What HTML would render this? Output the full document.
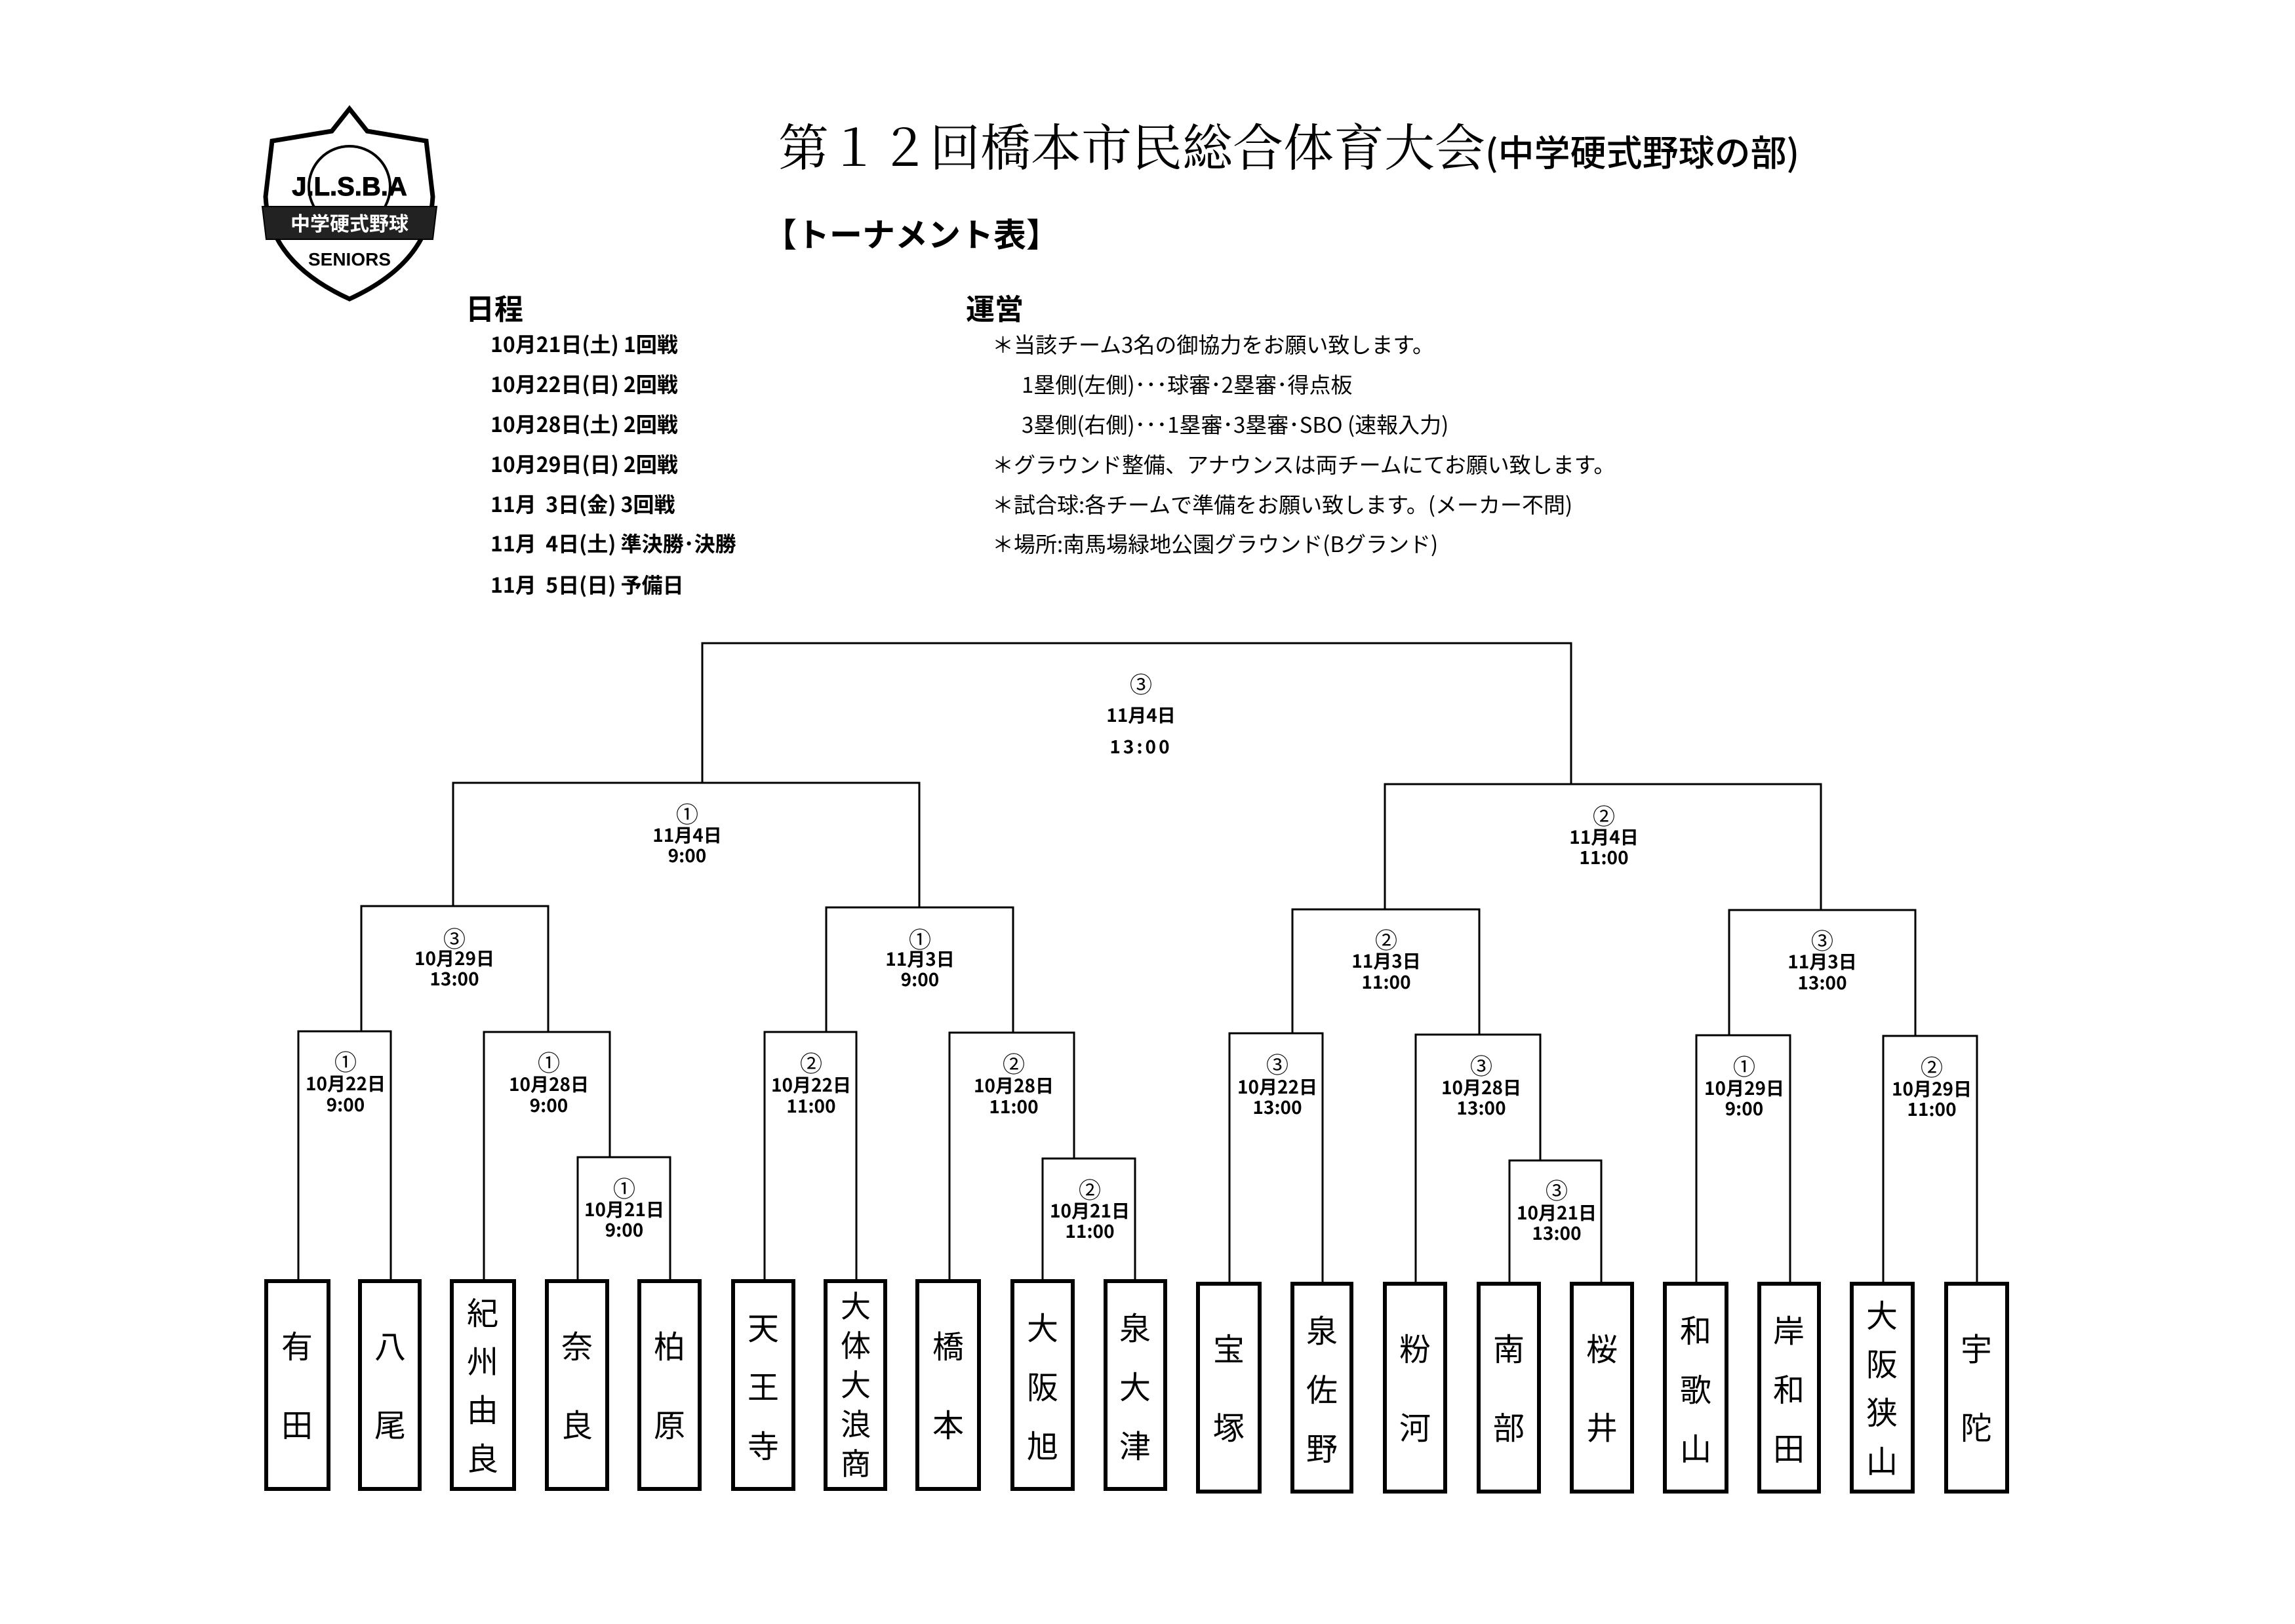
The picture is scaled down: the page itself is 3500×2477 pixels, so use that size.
<!DOCTYPE html>
<html><head><meta charset="utf-8">
<style>
html,body{margin:0;padding:0;background:#fff;}
body{width:3500px;height:2477px;position:relative;overflow:hidden;font-family:"Liberation Sans","Noto Sans CJK JP",sans-serif;color:#000;}
.t{position:absolute;white-space:nowrap;line-height:1;}
</style></head><body>
<div class="t" style="left:1187px;top:182px;font-size:77px;font-family:'Noto Serif CJK SC','Noto Sans CJK JP',serif;">第１２回橋本市民総合体育大会<span style="font-size:55px;font-family:'Noto Sans CJK JP',sans-serif;font-weight:500;">(中学硬式野球の部)</span></div>
<div class="t" style="left:1165px;top:330px;font-size:50px;font-weight:bold;font-family:'Noto Sans CJK JP',sans-serif;">【トーナメント表】</div>
<div class="t" style="left:710px;top:446px;font-size:44px;font-weight:bold;font-family:'Noto Sans CJK JP',sans-serif;">日程</div>
<div class="t" style="left:1473px;top:446px;font-size:44px;font-weight:bold;font-family:'Noto Sans CJK JP',sans-serif;">運営</div>
<div style="position:absolute;left:748px;top:0;font-size:32px;font-weight:bold;font-family:'Noto Sans CJK JP',sans-serif;">
<div class="t" style="top:508px">10月21日(土) 1回戦</div>
<div class="t" style="top:569px">10月22日(日) 2回戦</div>
<div class="t" style="top:630px">10月28日(土) 2回戦</div>
<div class="t" style="top:691px">10月29日(日) 2回戦</div>
<div class="t" style="top:752px">11月&nbsp;&nbsp;3日(金) 3回戦</div>
<div class="t" style="top:812px">11月&nbsp;&nbsp;4日(土) 準決勝･決勝</div>
<div class="t" style="top:875px">11月&nbsp;&nbsp;5日(日) 予備日</div>
</div>
<div style="position:absolute;left:1513px;top:0;font-size:33px;font-family:'Noto Sans CJK JP',sans-serif;">
<div class="t" style="top:508px">＊当該チーム3名の御協力をお願い致します。</div>
<div class="t" style="top:569px;left:45px">1塁側(左側)･･･球審･2塁審･得点板</div>
<div class="t" style="top:630px;left:45px">3塁側(右側)･･･1塁審･3塁審･SBO (速報入力)</div>
<div class="t" style="top:691px">＊グラウンド整備、アナウンスは両チームにてお願い致します。</div>
<div class="t" style="top:752px">＊試合球:各チームで準備をお願い致します。(メーカー不問)</div>
<div class="t" style="top:812px">＊場所:南馬場緑地公園グラウンド(Bグランド)</div>
</div>

<svg style="position:absolute;left:0;top:0" width="3500" height="2477" xmlns="http://www.w3.org/2000/svg">
<g stroke="#000" fill="none">
<path d="M533 166 L560 200 L650 215 L660 300 Q655 400 533 456 Q410 400 405 300 L415 215 L506 200 Z" stroke-width="7" fill="#fff"/>
<circle cx="533" cy="285" r="62" stroke-width="4"/>
<path d="M400 315 L666 315 L660 365 L406 365 Z" fill="#222" stroke-width="2"/>
</g>
<text x="533" y="298" font-size="40" font-weight="bold" text-anchor="middle" font-family="Liberation Sans" stroke="#000" stroke-width="1">J.L.S.B.A</text>
<text x="533" y="352" font-size="30" font-weight="bold" text-anchor="middle" fill="#fff" font-family="Noto Sans CJK JP">中学硬式野球</text>
<text x="533" y="405" font-size="28" font-weight="bold" text-anchor="middle" font-family="Liberation Sans">SENIORS</text>

<g stroke="#000" stroke-width="3" fill="none" stroke-linecap="square">
<path d="M1071 1194 V981 H2396 V1196"/>
<path d="M691 1382 V1194 H1402 V1384"/>
<path d="M2112 1387 V1196 H2777 V1388"/>
<path d="M551 1573 V1382 H836 V1574"/>
<path d="M1260 1574 V1384 H1545 V1575"/>
<path d="M1971 1576 V1387 H2256 V1578"/>
<path d="M2637 1579 V1388 H2921 V1580"/>
<path d="M455 1952 V1573 H596 V1952"/>
<path d="M738 1952 V1574 H930 V1765"/>
<path d="M881 1952 V1765 H1022 V1952"/>
<path d="M1166 1952 V1574 H1306 V1952"/>
<path d="M1448 1952 V1575 H1638 V1767"/>
<path d="M1590 1952 V1767 H1731 V1952"/>
<path d="M1875 1956 V1576 H2017 V1956"/>
<path d="M2159 1956 V1578 H2349 V1770"/>
<path d="M2302 1956 V1770 H2442 V1956"/>
<path d="M2587 1956 V1579 H2730 V1956"/>
<path d="M2872 1956 V1580 H3015 V1956"/>
</g>

<g stroke="#000" stroke-width="6" fill="#fff">
<rect x="406" y="1954" width="95" height="317"/>
<rect x="549" y="1954" width="91" height="317"/>
<rect x="689" y="1954" width="95" height="317"/>
<rect x="834" y="1954" width="92" height="317"/>
<rect x="975" y="1954" width="92" height="317"/>
<rect x="1118" y="1954" width="92" height="317"/>
<rect x="1259" y="1954" width="91" height="317"/>
<rect x="1399" y="1954" width="94" height="317"/>
<rect x="1544" y="1954" width="92" height="317"/>
<rect x="1686" y="1954" width="91" height="317"/>
<rect x="1827" y="1958" width="94" height="317"/>
<rect x="1971" y="1958" width="90" height="317"/>
<rect x="2112" y="1958" width="92" height="317"/>
<rect x="2255" y="1958" width="92" height="317"/>
<rect x="2397" y="1958" width="92" height="317"/>
<rect x="2539" y="1958" width="94" height="317"/>
<rect x="2683" y="1958" width="91" height="317"/>
<rect x="2824" y="1958" width="93" height="317"/>
<rect x="2968" y="1958" width="93" height="317"/>
</g>

<g font-family="Noto Sans CJK JP, sans-serif" font-size="48" text-anchor="middle" dominant-baseline="central">
<text x="453" y="2050">有</text><text x="453" y="2170">田</text>
<text x="595" y="2050">八</text><text x="595" y="2170">尾</text>
<text x="736" y="1999">紀</text><text x="736" y="2073">州</text><text x="736" y="2147">由</text><text x="736" y="2221">良</text>
<text x="880" y="2050">奈</text><text x="880" y="2170">良</text>
<text x="1021" y="2050">柏</text><text x="1021" y="2170">原</text>
<text x="1164" y="2022">天</text><text x="1164" y="2112">王</text><text x="1164" y="2202">寺</text>
<g font-size="46"><text x="1305" y="1990">大</text><text x="1305" y="2050">体</text><text x="1305" y="2110">大</text><text x="1305" y="2170">浪</text><text x="1305" y="2230">商</text></g>
<text x="1446" y="2050">橋</text><text x="1446" y="2170">本</text>
<text x="1590" y="2022">大</text><text x="1590" y="2112">阪</text><text x="1590" y="2202">旭</text>
<text x="1731" y="2022">泉</text><text x="1731" y="2112">大</text><text x="1731" y="2202">津</text>
<text x="1874" y="2054">宝</text><text x="1874" y="2174">塚</text>
<text x="2016" y="2026">泉</text><text x="2016" y="2116">佐</text><text x="2016" y="2206">野</text>
<text x="2158" y="2054">粉</text><text x="2158" y="2174">河</text>
<text x="2301" y="2054">南</text><text x="2301" y="2174">部</text>
<text x="2443" y="2054">桜</text><text x="2443" y="2174">井</text>
<text x="2586" y="2026">和</text><text x="2586" y="2116">歌</text><text x="2586" y="2206">山</text>
<text x="2728" y="2026">岸</text><text x="2728" y="2116">和</text><text x="2728" y="2206">田</text>
<text x="2870" y="2003">大</text><text x="2870" y="2077">阪</text><text x="2870" y="2151">狭</text><text x="2870" y="2225">山</text>
<text x="3014" y="2054">宇</text><text x="3014" y="2174">陀</text>
</g>

<g font-family="Noto Sans CJK JP, sans-serif" font-size="28" font-weight="bold" text-anchor="middle" dominant-baseline="central">
<g font-size="34" font-weight="normal">
<text x="1740" y="1042">③</text>
<text x="1048" y="1240">①</text>
<text x="2446" y="1243">②</text>
<text x="693" y="1430">③</text>
<text x="1403" y="1431">①</text>
<text x="2114" y="1432">②</text>
<text x="2779" y="1433">③</text>
<text x="527" y="1618">①</text>
<text x="837" y="1619">①</text>
<text x="952" y="1811">①</text>
<text x="1237" y="1620">②</text>
<text x="1546" y="1621">②</text>
<text x="1662" y="1813">②</text>
<text x="1948" y="1622">③</text>
<text x="2259" y="1624">③</text>
<text x="2374" y="1814">③</text>
<text x="2660" y="1625">①</text>
<text x="2946" y="1626">②</text>
</g>
<text x="1740" y="1090">11月4日</text><text x="1740" y="1138" letter-spacing="4">13:00</text>
<text x="1048" y="1273">11月4日</text><text x="1048" y="1304">9:00</text>
<text x="2446" y="1276">11月4日</text><text x="2446" y="1307">11:00</text>
<text x="693" y="1461">10月29日</text><text x="693" y="1492">13:00</text>
<text x="1403" y="1462">11月3日</text><text x="1403" y="1493">9:00</text>
<text x="2114" y="1465">11月3日</text><text x="2114" y="1497">11:00</text>
<text x="2779" y="1466">11月3日</text><text x="2779" y="1498">13:00</text>
<text x="527" y="1652">10月22日</text><text x="527" y="1684">9:00</text>
<text x="837" y="1653">10月28日</text><text x="837" y="1685">9:00</text>
<text x="952" y="1844">10月21日</text><text x="952" y="1875">9:00</text>
<text x="1237" y="1654">10月22日</text><text x="1237" y="1686">11:00</text>
<text x="1546" y="1655">10月28日</text><text x="1546" y="1687">11:00</text>
<text x="1662" y="1846">10月21日</text><text x="1662" y="1877">11:00</text>
<text x="1948" y="1657">10月22日</text><text x="1948" y="1688">13:00</text>
<text x="2259" y="1658">10月28日</text><text x="2259" y="1689">13:00</text>
<text x="2374" y="1849">10月21日</text><text x="2374" y="1880">13:00</text>
<text x="2660" y="1659">10月29日</text><text x="2660" y="1690">9:00</text>
<text x="2946" y="1660">10月29日</text><text x="2946" y="1691">11:00</text>
</g>
</svg>
</body></html>
